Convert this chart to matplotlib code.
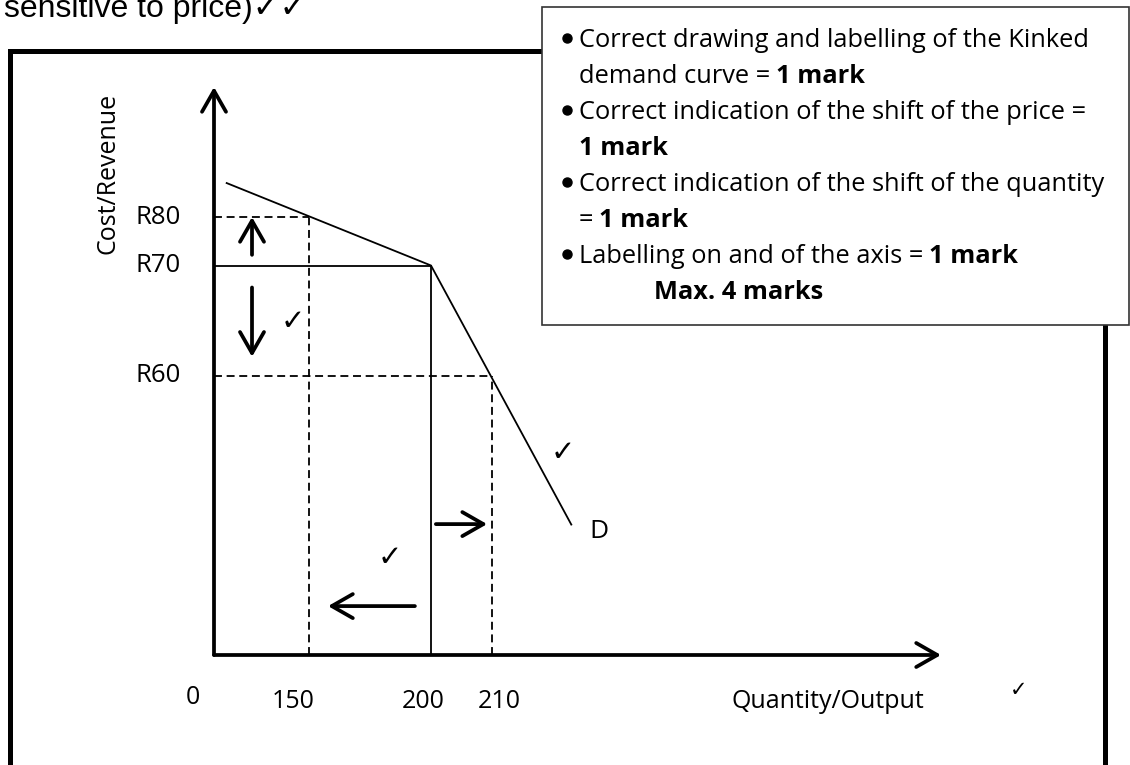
import numpy as np
import matplotlib
matplotlib.use('Agg')
import matplotlib.pyplot as plt
from matplotlib.patches import Rectangle

# Dados do diagrama (curva de procura quebrada)
quantities = [0, 150, 200, 210]
quantity_labels = ['0', '150', '200', '210']
prices = [60, 70, 80]
price_labels = ['R60', 'R70', 'R80']

q_old, p_old = 200, 70          # ponto de quebra
q_up, p_up = 150, 80            # preço sobe -> quantidade cai
q_down, p_down = 210, 60        # preço desce -> quantidade sobe

demand_q = [20, 200, 223]
demand_p = [87, 70, 28]

top_text = 'sensitive to price)\u2713\u2713'
memo_lines = [
    [('Correct drawing and labelling of the Kinked', 'normal')],
    [('demand curve =', 'normal'), ('1 mark', 'bold')],
    [('Correct indication of the shift of the price =', 'normal')],
    [('1 mark', 'bold')],
    [('Correct indication of the shift of the quantity', 'normal')],
    [('=', 'normal'), ('1 mark', 'bold')],
    [('Labelling on and of the axis =', 'normal'), ('1 mark', 'bold')],
    [('Max. 4 marks', 'bold')],
]
bullet_lines = [0, 2, 4, 6]

W, H = 1130, 765
FONT = 'Open Sans'


# escala esquemática (eixo não linear, como no desenho à mão)
def piecewise(xp, fp):
    xp = np.asarray(xp, float)
    fp = np.asarray(fp, float)

    def f(v):
        v = np.asarray(v, float)
        out = np.interp(v, xp, fp)
        lo = fp[0] + (v - xp[0]) * (fp[1] - fp[0]) / (xp[1] - xp[0])
        hi = fp[-1] + (v - xp[-1]) * (fp[-1] - fp[-2]) / (xp[-1] - xp[-2])
        out = np.where(v < xp[0], lo, out)
        out = np.where(v > xp[-1], hi, out)
        return out
    return f


x_px = [214, 309, 431, 492]
y_px = [H - 655, H - 375.5, H - 265.5, H - 217]
y_vals = [0] + prices

fx, fx_inv = piecewise(quantities, x_px), piecewise(x_px, quantities)
fy, fy_inv = piecewise(y_vals, y_px), piecewise(y_px, y_vals)

fig = plt.figure(figsize=(W / 100, H / 100), dpi=100)
ax = fig.add_axes([0, 0, 1, 1])
ax.set_xscale('function', functions=(fx, fx_inv))
ax.set_yscale('function', functions=(fy, fy_inv))
ax.set_xlim(float(fx_inv(0)), float(fx_inv(W)))
ax.set_ylim(float(fy_inv(0)), float(fy_inv(H)))
ax.axis('off')


def fx_frac(px):
    return px / W


def fy_frac(py):
    return (H - py) / H


# moldura grossa
ax.plot([fx_frac(10), fx_frac(10), fx_frac(1104.5), fx_frac(1104.5)],
        [-0.05, fy_frac(51), fy_frac(51), -0.05],
        color='k', lw=3.6, transform=ax.transAxes, clip_on=False, zorder=1,
        solid_joinstyle='miter')

# eixos com setas
arrow_kw = dict(arrowstyle='->,head_length=0.42,head_width=0.24', lw=2.7,
                color='k', mutation_scale=36, shrinkA=0, shrinkB=0)
ax.annotate('', xy=(0, fy_frac(87)), xycoords=('data', 'axes fraction'),
            xytext=(0, 0), textcoords='data', arrowprops=arrow_kw)
ax.annotate('', xy=(fx_frac(941), 0), xycoords=('axes fraction', 'data'),
            xytext=(0, 0), textcoords='data', arrowprops=arrow_kw)

# linhas do preço/quantidade
dash = (0, (4.4, 2.6))
ax.plot([0, q_old], [p_old, p_old], color='k', lw=1.3)
ax.plot([q_old, q_old], [0, p_old], color='k', lw=1.3)
ax.plot([0, q_up], [p_up, p_up], color='k', lw=1.3, ls=dash)
ax.plot([q_up, q_up], [0, p_up], color='k', lw=1.3, ls=dash)
ax.plot([0, q_down], [p_down, p_down], color='k', lw=1.3, ls=dash)
ax.plot([q_down, q_down], [0, p_down], color='k', lw=1.3, ls=dash)

# curva de procura
ax.plot(demand_q, demand_p, color='k', lw=1.3)
ax.annotate('D', xy=(demand_q[-1], demand_p[-1]), xytext=(28, -7),
            textcoords='offset pixels', ha='center', va='center',
            fontsize=19, family=FONT)

# setas das variações
ax.annotate('', xy=(60, p_up), xytext=(60, 72.2), arrowprops=arrow_kw)
ax.annotate('', xy=(60, 61.7), xytext=(60, 68.0), arrowprops=arrow_kw)
ax.annotate('', xy=(209.2, 28.1), xytext=(200.8, 28.1), arrowprops=arrow_kw)
ax.annotate('', xy=(157.8, 10.5), xytext=(193.4, 10.5), arrowprops=arrow_kw)

# rótulos dos eixos
tick_dx = [-21, -16, -8, 7]
tick_dy = [-43, -47, -47, -47]
for q, lab, dx, dy in zip(quantities, quantity_labels, tick_dx, tick_dy):
    ax.annotate(lab, xy=(q, 0), xytext=(dx, dy), textcoords='offset pixels',
                ha='center', va='center', fontsize=18, family=FONT)
for p, lab in zip(prices, price_labels):
    ax.text(fx_frac(158), p, lab, transform=ax.get_yaxis_transform(),
            ha='center', va='center', fontsize=18.5, family=FONT)
ax.text(fx_frac(108), fy_frac(173), 'Cost/Revenue', rotation=90,
        transform=ax.transAxes, ha='center', va='center', fontsize=18, family=FONT)
ax.text(fx_frac(828), fy_frac(702), 'Quantity/Output', transform=ax.transAxes,
        ha='center', va='center', fontsize=18, family=FONT)

# vistos
for (cx, cy, s) in [(293, 322, 21), (563, 453, 21), (390, 558, 21), (1019, 690, 15)]:
    ax.text(fx_frac(cx), fy_frac(cy), '\u2713', transform=ax.transAxes,
            ha='center', va='center', fontsize=s, family='DejaVu Sans')

# texto cortado no topo
ax.text(fx_frac(4), fy_frac(17), top_text, transform=ax.transAxes,
        ha='left', va='baseline', fontsize=23,
        family=['Liberation Sans', 'DejaVu Sans'], clip_on=False)

# caixa com a grelha de correcção
ax.add_patch(Rectangle((fx_frac(542), fy_frac(325)), fx_frac(1129 - 542),
                       (325 - 7) / H, transform=ax.transAxes, fc='white',
                       ec='#333333', lw=1.2, zorder=5))

renderer = fig.canvas.get_renderer()
for i, segs in enumerate(memo_lines):
    base = 47 + 36 * i
    x = 654 if i == 7 else 579
    if i in bullet_lines:
        ax.plot(fx_frac(567), fy_frac(base - 9), 'o', ms=6.5, color='k',
                transform=ax.transAxes, zorder=6, clip_on=False)
    for txt, wt in segs:
        t = ax.text(fx_frac(x), fy_frac(base), txt, transform=ax.transAxes,
                    ha='left', va='baseline', fontsize=18.3, family=FONT,
                    fontweight=wt, zorder=6)
        bb = t.get_window_extent(renderer)
        x = bb.x1 + 6

fig.savefig('out.png', dpi=100)
